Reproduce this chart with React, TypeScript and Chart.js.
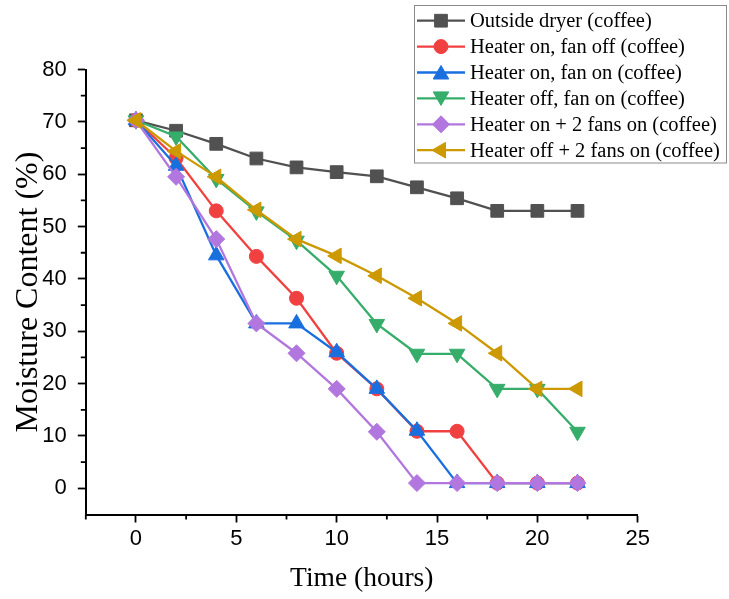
import React, { useEffect, useRef } from 'react';
import { Chart, registerables } from 'chart.js';

Chart.register(...registerables);

// ---------- data ----------
const TIME_HOURS = [0, 2, 4, 6, 8, 10, 12, 14, 16, 18, 20, 22];

const OUTSIDE_DRYER = [70.3, 68.3, 65.8, 63.0, 61.3, 60.4, 59.6, 57.5, 55.4, 53.0, 53.0, 53.0];
const HEATER_ON_FAN_OFF = [70.3, 63.1, 53.0, 44.3, 36.3, 25.8, 19.0, 10.9, 10.9, 1.0, 1.0, 1.0];
const HEATER_ON_FAN_ON = [70.3, 61.6, 44.5, 31.5, 31.5, 26.0, 19.0, 11.0, 1.0, 1.0, 1.0, 1.0];
const HEATER_OFF_FAN_ON = [70.3, 67.2, 59.1, 52.9, 47.3, 40.6, 31.4, 25.7, 25.7, 19.0, 19.0, 10.8];
const HEATER_ON_2_FANS = [70.3, 59.5, 47.6, 31.5, 25.8, 19.0, 10.8, 1.0, 1.0, 1.0, 1.0, 1.0];
const HEATER_OFF_2_FANS = [70.3, 64.4, 59.5, 53.2, 47.6, 44.4, 40.6, 36.3, 31.5, 25.8, 19.0, 19.0];

const SERIES_LABELS = [
  'Outside dryer (coffee)',
  'Heater on, fan off (coffee)',
  'Heater on, fan on (coffee)',
  'Heater off, fan on (coffee)',
  'Heater on + 2 fans on (coffee)',
  'Heater off + 2 fans on (coffee)',
];
const SERIES_VALUES = [
  OUTSIDE_DRYER,
  HEATER_ON_FAN_OFF,
  HEATER_ON_FAN_ON,
  HEATER_OFF_FAN_ON,
  HEATER_ON_2_FANS,
  HEATER_OFF_2_FANS,
];

const X_TICKS = [0, 5, 10, 15, 20, 25];
const X_MINOR_TICKS = [-2.5, 2.5, 7.5, 12.5, 17.5, 22.5];
const Y_TICKS = [0, 10, 20, 30, 40, 50, 60, 70, 80];
const Y_MINOR_TICKS = [5, 15, 25, 35, 45, 55, 65, 75];

const X_TITLE = 'Time (hours)';
const Y_TITLE = 'Moisture Content (%)';

// ---------- styles ----------
const SERIES_STYLES = [
  { color: '#515151', pointStyle: 'rect', rotation: 0, radius: 9 },
  { color: '#F14040', pointStyle: 'circle', rotation: 0, radius: 7 },
  { color: '#1A6FDF', pointStyle: 'triangle', rotation: 0, radius: 9 },
  { color: '#37AD6B', pointStyle: 'triangle', rotation: 180, radius: 9 },
  { color: '#B177DE', pointStyle: 'rectRot', rotation: 0, radius: 8.5 },
  { color: '#CC9900', pointStyle: 'triangle', rotation: 270, radius: 9 },
];

const SANS = '"Liberation Sans", Arial, sans-serif';
const SERIF = '"Liberation Serif", "Times New Roman", serif';

function drawMarker(ctx: CanvasRenderingContext2D, style: string, rotationDeg: number, r: number, x: number, y: number) {
  let rad = (rotationDeg * Math.PI) / 180;
  ctx.beginPath();
  if (style === 'circle') {
    ctx.arc(x, y, r, 0, Math.PI * 2);
  } else if (style === 'rect') {
    const s = Math.SQRT1_2 * r;
    ctx.rect(x - s, y - s, 2 * s, 2 * s);
  } else if (style === 'rectRot') {
    ctx.moveTo(x - r, y);
    ctx.lineTo(x, y - r);
    ctx.lineTo(x + r, y);
    ctx.lineTo(x, y + r);
    ctx.closePath();
  } else if (style === 'triangle') {
    const t = (2 * Math.PI) / 3;
    ctx.moveTo(x + Math.sin(rad) * r, y - Math.cos(rad) * r);
    rad += t;
    ctx.lineTo(x + Math.sin(rad) * r, y - Math.cos(rad) * r);
    rad += t;
    ctx.lineTo(x + Math.sin(rad) * r, y - Math.cos(rad) * r);
    ctx.closePath();
  }
  ctx.fill();
  ctx.stroke();
}

const minorTicksPlugin = {
  id: 'minorTicks',
  afterDraw(chart: any) {
    const ctx = chart.ctx;
    const xs = chart.scales.x;
    const ys = chart.scales.y;
    const area = chart.chartArea;
    ctx.save();
    ctx.strokeStyle = '#000';
    ctx.lineWidth = 1.8;
    ctx.beginPath();
    X_MINOR_TICKS.forEach((v) => {
      const px = xs.getPixelForValue(v);
      ctx.moveTo(px, area.bottom);
      ctx.lineTo(px, area.bottom + 5);
    });
    Y_MINOR_TICKS.forEach((v) => {
      const py = ys.getPixelForValue(v);
      ctx.moveTo(area.left, py);
      ctx.lineTo(area.left - 5, py);
    });
    ctx.stroke();
    ctx.restore();
  },
};

const boxLegendPlugin = {
  id: 'boxLegend',
  afterDraw(chart: any) {
    const ctx = chart.ctx;
    ctx.save();
    ctx.fillStyle = '#fff';
    ctx.fillRect(414.5, 5.5, 312, 157.5);
    ctx.strokeStyle = '#8a8a8a';
    ctx.lineWidth = 1;
    ctx.strokeRect(414.5, 5.5, 312, 157.5);
    chart.data.datasets.forEach((ds: any, i: number) => {
      const y = 20.7 + i * 25.9;
      const st = SERIES_STYLES[i];
      ctx.strokeStyle = st.color;
      ctx.lineWidth = 2.3;
      ctx.beginPath();
      ctx.moveTo(417, y);
      ctx.lineTo(465, y);
      ctx.stroke();
      ctx.fillStyle = st.color;
      ctx.lineWidth = 1;
      const yOff = st.pointStyle === 'triangle' && st.rotation === 0 ? 2 : st.pointStyle === 'triangle' && st.rotation === 180 ? -2 : 0;
      drawMarker(ctx, st.pointStyle, st.rotation, st.radius, 441, y + yOff);
      ctx.fillStyle = '#000';
      ctx.font = `20.5px ${SERIF}`;
      ctx.textAlign = 'left';
      ctx.textBaseline = 'middle';
      ctx.fillText(ds.label, 470, y + 1);
    });
    ctx.restore();
  },
};

export default function App() {
  const canvasRef = useRef<HTMLCanvasElement | null>(null);

  useEffect(() => {
    if (!canvasRef.current) return;
    const datasets = SERIES_VALUES.map((vals, i) => {
      const st = SERIES_STYLES[i];
      return {
        label: SERIES_LABELS[i],
        data: vals.map((v, j) => ({ x: TIME_HOURS[j], y: v })),
        borderColor: st.color,
        backgroundColor: st.color,
        pointBackgroundColor: st.color,
        pointBorderColor: st.color,
        pointBorderWidth: 1,
        pointStyle: st.pointStyle,
        pointRotation: st.rotation,
        pointRadius: st.radius,
        pointHoverRadius: st.radius,
        borderWidth: 2.3,
        tension: 0,
        fill: false,
        order: SERIES_VALUES.length - i,
      };
    });

    const chart = new Chart(canvasRef.current, {
      type: 'line',
      data: { datasets: datasets as any },
      plugins: [minorTicksPlugin, boxLegendPlugin],
      options: {
        animation: false,
        responsive: true,
        maintainAspectRatio: false,
        layout: { padding: { left: 0, top: 69.5, right: 91.3, bottom: 0 } },
        plugins: {
          legend: { display: false },
          tooltip: { enabled: false },
          title: { display: false },
        },
        scales: {
          x: {
            type: 'linear',
            min: -2.5,
            max: 25,
            afterBuildTicks: (s: any) => {
              s.ticks = X_TICKS.map((v) => ({ value: v }));
            },
            afterFit: (s: any) => {
              s.height = 84.5;
            },
            grid: {
              display: true,
              drawOnChartArea: false,
              drawTicks: true,
              tickLength: 8,
              tickWidth: 1.8,
              tickColor: '#000',
            },
            border: { display: true, color: '#000', width: 2 },
            ticks: {
              color: '#000',
              font: { family: SANS, size: 22 },
              padding: 3,
              maxRotation: 0,
              autoSkip: false,
            },
            title: {
              display: true,
              text: X_TITLE,
              color: '#000',
              font: { family: SERIF, size: 27.5 },
              padding: { top: 0, bottom: 3.5 },
            },
          },
          y: {
            type: 'linear',
            min: -5,
            max: 80,
            afterBuildTicks: (s: any) => {
              s.ticks = Y_TICKS.map((v) => ({ value: v }));
            },
            afterFit: (s: any) => {
              s.width = 85.8;
            },
            grid: {
              display: true,
              drawOnChartArea: false,
              drawTicks: true,
              tickLength: 8,
              tickWidth: 1.8,
              tickColor: '#000',
            },
            border: { display: true, color: '#000', width: 2 },
            ticks: {
              color: '#000',
              font: { family: SANS, size: 22 },
              padding: 11,
              autoSkip: false,
            },
            title: {
              display: true,
              text: Y_TITLE,
              color: '#000',
              font: { family: SERIF, size: 32 },
              padding: { top: 9, bottom: 0 },
            },
          },
        },
      },
    });
    return () => chart.destroy();
  }, []);

  return (
    <div style={{ position: 'fixed', left: 0, top: 0, width: 729, height: 599, background: '#fff' }}>
      <canvas ref={canvasRef} />
    </div>
  );
}
